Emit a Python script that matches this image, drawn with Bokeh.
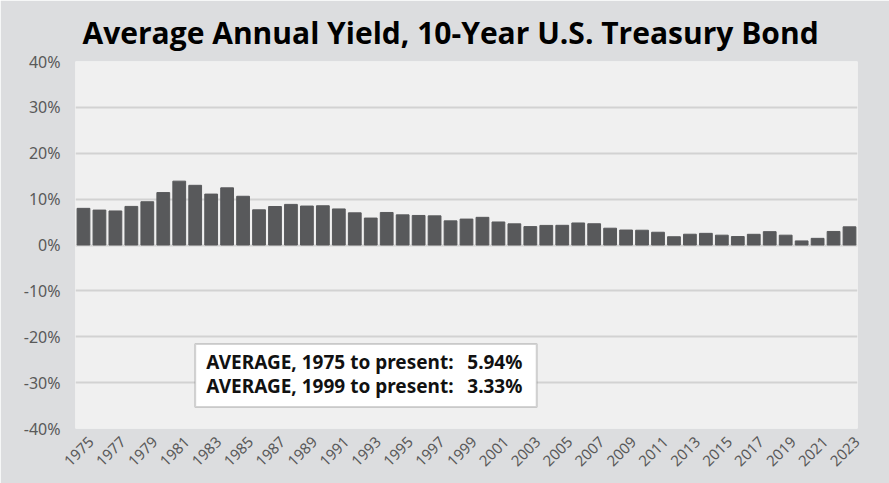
from bokeh.plotting import figure
from bokeh.models import Range1d, FixedTicker, BoxAnnotation, Label, LinearAxis
from bokeh.embed import file_html
from bokeh.resources import INLINE

years = list(range(1975, 2024))
yields = [7.99, 7.61, 7.42, 8.41, 9.43, 11.43, 13.92, 13.01, 11.10, 12.46,
          10.62, 7.67, 8.39, 8.85, 8.49, 8.55, 7.86, 7.01, 5.87, 7.09,
          6.57, 6.44, 6.35, 5.26, 5.65, 6.03, 5.02, 4.61, 4.01, 4.27,
          4.29, 4.80, 4.63, 3.66, 3.26, 3.22, 2.78, 1.80, 2.35, 2.54,
          2.14, 1.84, 2.33, 2.91, 2.14, 0.89, 1.45, 2.95, 3.96]
x_tick_years = list(range(1975, 2024, 2))
x_tick_labels = [str(y) for y in x_tick_years]
y_ticks = [-40, -30, -20, -10, 0, 10, 20, 30, 40]
avg_labels = ["AVERAGE, 1975 to present:", "AVERAGE, 1999 to present:"]
avg_values = ["5.94%", "3.33%"]

OUTER = "#dcdddf"
X_MIN, X_MAX = 1974.5, 2023.5
Y_MIN, Y_MAX = -40, 40
p = figure(width=889, height=483, output_backend="svg", toolbar_location=None,
           x_range=Range1d(X_MIN, X_MAX), y_range=Range1d(Y_MIN, Y_MAX),
           title="Average Annual Yield, 10-Year U.S. Treasury Bond",
           min_border_left=75, min_border_right=32, min_border_top=61, min_border_bottom=55)
p.background_fill_color = "#f0f0f0"
p.border_fill_color = OUTER
p.outline_line_color = None

p.title.text_font = "Open Sans"
p.title.text_font_size = "30px"
p.title.text_font_style = "bold"
p.title.text_color = "#000000"
p.title.align = "left"
p.title.offset = 7
p.title.standoff = 17

p.vbar(x=years, top=yields, bottom=0, width=0.8, color="#58595b")

p.xgrid.grid_line_color = None
p.ygrid.grid_line_color = "#d2d2d2"
p.ygrid.grid_line_width = 2
p.yaxis.ticker = FixedTicker(ticks=y_ticks)
p.yaxis.major_label_overrides = {t: f"{t}%" for t in y_ticks}
p.yaxis.major_label_standoff = 9
p.xaxis.visible = False

# year labels: axis on a slightly shifted range so each rotated label sits under its bar
shift = 0.49
p.extra_x_ranges = {"labels": Range1d(X_MIN - shift, X_MAX - shift)}
xax = LinearAxis(x_range_name="labels", ticker=FixedTicker(ticks=x_tick_years),
                 major_label_overrides=dict(zip(x_tick_years, x_tick_labels)),
                 major_label_orientation=0.785, major_label_standoff=5)
p.add_layout(xax, "below")

for ax in (p.yaxis[0], xax):
    ax.axis_line_color = None
    ax.major_tick_line_color = None
    ax.minor_tick_line_color = None
    ax.major_label_text_font = "Noto Sans"
    ax.major_label_text_color = "#595959"
p.yaxis.major_label_text_font_size = "16px"
xax.major_label_text_font_size = "15px"

box = BoxAnnotation(left=1982.0, right=2003.4, top=-21.6, bottom=-35.3,
                    fill_color="white", fill_alpha=1.0,
                    line_color="#707070", line_width=2)
p.add_layout(box)
for i, (lab, val) in enumerate(zip(avg_labels, avg_values)):
    yy = -25.5 - 5.2 * i
    p.add_layout(Label(x=1982.7, y=yy, text=lab, text_font="Noto Sans",
                       text_font_style="bold", text_font_size="19px",
                       text_baseline="middle", text_align="left", text_color="#111111"))
    p.add_layout(Label(x=2002.5, y=yy, text=val, text_font="Noto Sans",
                       text_font_style="bold", text_font_size="19px",
                       text_baseline="middle", text_align="right", text_color="#111111"))

open("out.html", "w").write(file_html(p, INLINE))
